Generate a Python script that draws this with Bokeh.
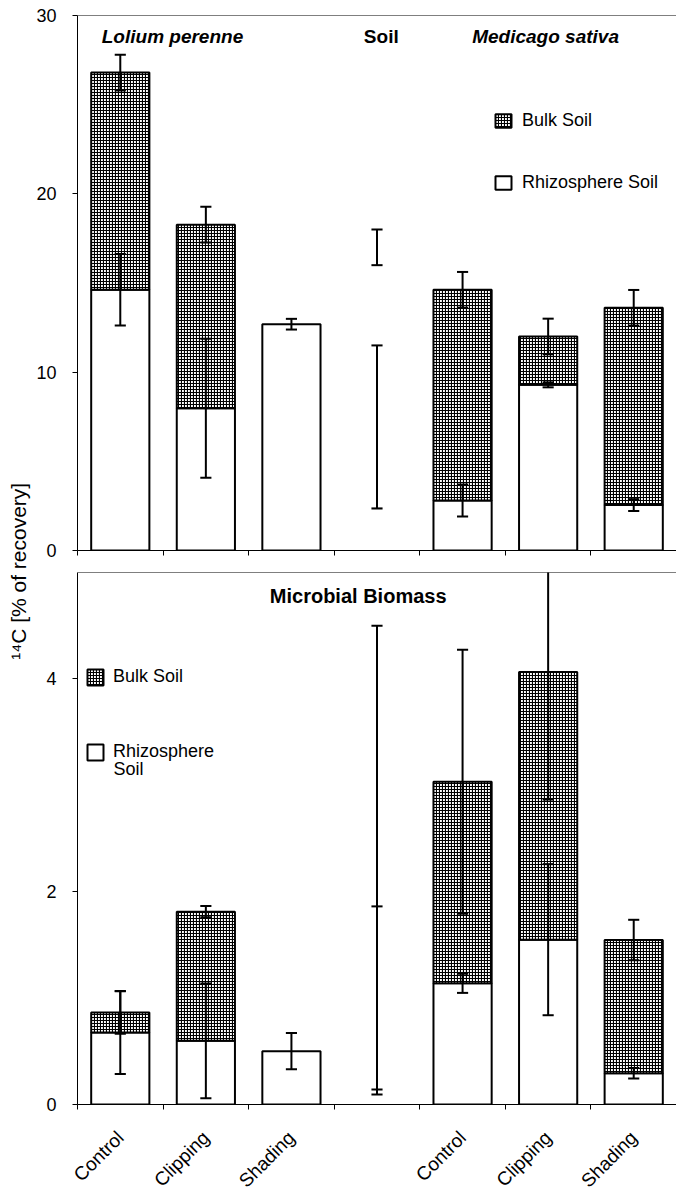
import numpy as np
from math import pi
from bokeh.plotting import figure
from bokeh.models import (ColumnDataSource, FixedTicker, Range1d, Span, Label,
                          Legend, LegendItem)
from bokeh.core.properties import value
from bokeh.layouts import row, column
from bokeh.embed import file_html
from bokeh.resources import INLINE

nan = float("nan")

# ---------------- data ----------------
treatments = ["Control", "Clipping", "Shading", "", "Control", "Clipping", "Shading"]
bar_shown = [True, True, True, False, True, True, True]

# Soil panel (% of recovery)
soil_total = [26.80, 18.27, 12.69, 17.00, 14.62, 12.00, 13.61]
soil_total_err = [1.00, 1.00, nan, 1.00, 1.00, 1.00, 1.00]
soil_rhizo = [14.62, 7.98, 12.69, 6.93, 2.80, 9.29, 2.55]
soil_rhizo_err = [2.00, 3.90, 0.30, 4.57, 0.90, 0.14, 0.33]

# Microbial biomass panel (% of recovery)
mb_total = [0.864, 1.812, 0.501, 2.32, 3.033, 4.066, 1.546]
mb_total_err = [0.20, 0.053, nan, 2.18, 1.24, 1.20, 0.19]
mb_rhizo = [0.676, 0.598, 0.501, 0.978, 1.139, 1.549, 0.294]
mb_rhizo_err = [0.39, 0.54, 0.17, 0.884, 0.09, 0.71, 0.05]

soil_ticks = [0, 10, 20, 30]
mb_ticks = [0, 2, 4]

FONT = "Liberation Sans"
BAR_W = 0.68
CAP = 0.065
LEFT = 45          # px between the y title strip and the y axis
N = len(treatments)

centers = [i + 0.5 for i in range(N)]
bounds = list(range(N + 1))


def panel(total, total_err, rhizo, rhizo_err, ymax, yticks, height, top_border,
          bottom_border):
    p = figure(width=644, height=height, x_range=Range1d(0, N),
               y_range=Range1d(0, ymax), toolbar_location=None, output_backend="svg",
               min_border_left=LEFT, min_border_right=0, min_border_top=top_border,
               min_border_bottom=bottom_border, outline_line_color=None)
    p.grid.visible = False

    x = np.array(centers)
    tot = np.array(total, dtype=float)
    rz = np.array(rhizo, dtype=float)
    shown = np.array(bar_shown)
    bulk_mask = shown & (tot - rz > 1e-9)

    rz_src = ColumnDataSource(dict(x=x[shown], top=rz[shown]))
    bk_src = ColumnDataSource(dict(x=x[bulk_mask], bottom=rz[bulk_mask], top=tot[bulk_mask]))

    r_rz = p.vbar(x="x", top="top", bottom=0, width=BAR_W, source=rz_src,
                  fill_color="white", line_color="black", line_width=2)
    r_bk = p.vbar(x="x", top="top", bottom="bottom", width=BAR_W, source=bk_src,
                  fill_color="white", hatch_pattern="cross", hatch_color="black",
                  hatch_scale=3, hatch_weight=1.2, line_color="black", line_width=2)

    # error bars
    for c, e in ((total, total_err), (rhizo, rhizo_err)):
        c = np.array(c, dtype=float)
        e = np.array(e, dtype=float)
        m = ~np.isnan(e)
        up = c[m] + e[m]
        lo = c[m] - e[m]
        xs = x[m]
        p.segment(x0=xs, y0=lo, x1=xs, y1=up, line_color="black", line_width=2)
        p.segment(x0=xs - CAP, y0=up, x1=xs + CAP, y1=up, line_color="black", line_width=2)
        p.segment(x0=xs - CAP, y0=lo, x1=xs + CAP, y1=lo, line_color="black", line_width=2)

    p.add_layout(Span(location=ymax, dimension="width", line_color="black", line_width=1))

    # y axis
    p.yaxis.ticker = FixedTicker(ticks=yticks)
    p.yaxis.major_tick_out = 5
    p.yaxis.major_tick_in = 0
    p.yaxis.minor_tick_line_color = None
    p.yaxis.major_label_standoff = 16
    p.yaxis.major_label_text_font = FONT
    p.yaxis.major_label_text_font_size = "18px"
    p.yaxis.major_label_text_color = "black"
    p.yaxis.axis_line_color = "black"
    p.yaxis.major_tick_line_color = "black"

    # x axis: tick marks at category boundaries
    p.xaxis.ticker = FixedTicker(ticks=[], minor_ticks=bounds)
    p.xaxis.major_tick_line_color = None
    p.xaxis.major_tick_out = 0
    p.xaxis.major_tick_in = 0
    p.xaxis.minor_tick_out = 5
    p.xaxis.minor_tick_in = 0
    p.xaxis.minor_tick_line_color = "black"
    p.xaxis.axis_line_color = "black"
    return p, r_bk, r_rz


# ---------------- top: Soil ----------------
p1, bk1, rz1 = panel(soil_total, soil_total_err, soil_rhizo, soil_rhizo_err, 30,
                     soil_ticks, 565, 15, 15)
for txt, xx, style in (("Lolium perenne", 1.11, "bold italic"), ("Soil", 3.55, "bold"),
                       ("Medicago sativa", 5.47, "bold italic")):
    p1.add_layout(Label(x=xx, y=28.83, text=txt, text_font=FONT, text_font_size="19px",
                        text_font_style=style, text_align="center", text_baseline="middle",
                        text_color="black"))
leg1 = Legend(items=[LegendItem(label="Bulk Soil", renderers=[bk1]),
                     LegendItem(label="Rhizosphere Soil", renderers=[rz1])],
              location=(416, 357), orientation="vertical", padding=0, margin=0,
              spacing=41, glyph_width=20, glyph_height=17, label_height=20,
              label_standoff=9, label_text_font=FONT, label_text_font_size="18px",
              label_text_color="black", border_line_color=None, background_fill_alpha=0)
p1.add_layout(leg1)

# ---------------- bottom: Microbial biomass ----------------
p2, bk2, rz2 = panel(mb_total, mb_total_err, mb_rhizo, mb_rhizo_err, 5,
                     mb_ticks, 549, 7, 10)
p2.add_layout(Label(x=3.28, y=4.78, text="Microbial Biomass", text_font=FONT,
                    text_font_size="20px", text_font_style="bold", text_align="center",
                    text_baseline="middle", text_color="black"))
leg2 = Legend(items=[LegendItem(label="Bulk Soil", renderers=[bk2]),
                     LegendItem(label="Rhizosphere", renderers=[rz2])],
              location=(8, 342), orientation="vertical", padding=0, margin=0,
              spacing=54, glyph_width=20, glyph_height=20, label_height=20,
              label_standoff=8, label_text_font=FONT, label_text_font_size="18px",
              label_text_color="black", border_line_color=None, background_fill_alpha=0)
p2.add_layout(leg2)
p2.add_layout(Label(x=36, y=1104 - 768, x_units="screen", y_units="screen",
                    text="Soil", text_font=FONT, text_font_size="18px",
                    text_baseline="middle", text_color="black"))

# ---------------- rotated treatment labels (strip under the bottom panel) ----------------
slot_px = 599 / N
p3 = figure(width=644, height=81, x_range=Range1d(-LEFT / slot_px, N),
            y_range=Range1d(0, 81), x_axis_type=None, y_axis_type=None,
            toolbar_location=None, output_backend="svg", min_border=0,
            min_border_left=0, min_border_right=0, min_border_top=0, min_border_bottom=0,
            outline_line_color=None)
p3.frame_align = False
lab_src = ColumnDataSource(dict(x=centers, text=treatments))
p3.text(x="x", y=61, text="text", source=lab_src, angle=pi / 4,
        text_align="right", text_baseline="middle", text_font=value(FONT),
        text_font_size="19px", text_color="black")

# ---------------- y title ----------------
pt = figure(width=32, height=1195, x_range=Range1d(0, 1), y_range=Range1d(0, 1),
            x_axis_type=None, y_axis_type=None, toolbar_location=None,
            output_backend="svg", min_border=0, min_border_left=0, min_border_right=0,
            min_border_top=0, min_border_bottom=0, outline_line_color=None)
pt.frame_align = False
pt.add_layout(Label(x=0.55, y=1 - 565 / 1195, text="\u00b9\u2074C   [% of recovery]",
                    angle=pi / 2, text_align="center", text_baseline="middle",
                    text_font=FONT, text_font_size="21px", text_color="black"))

layout = row(pt, column(p1, p2, p3, spacing=0), spacing=0)
open("out.html", "w").write(file_html(layout, INLINE))
